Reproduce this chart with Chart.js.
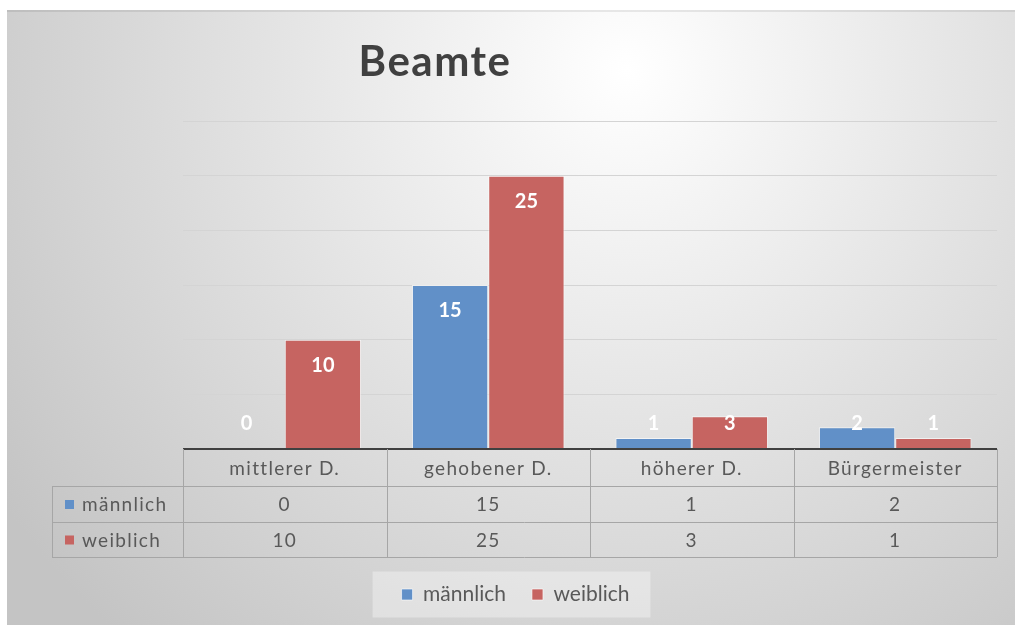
<!DOCTYPE html>
<html>
<head>
<meta charset="utf-8">
<script src="https://cdn.jsdelivr.net/npm/chart.js@4.4.1/dist/chart.umd.min.js"></script>
<style>
  html, body { margin: 0; padding: 0; background: #fff; }
  #wrap { position: absolute; left: 7px; top: 10px; width: 1008px; height: 615px; }
</style>
</head>
<body>
<div id="wrap"><canvas id="chart" width="1008" height="615"></canvas></div>
<script>
// data
const TITLE = 'Beamte';
const CATEGORIES = ['mittlerer D.', 'gehobener D.', 'höherer D.', 'Bürgermeister'];
const SERIES_NAMES = ['männlich', 'weiblich'];
const MAENNLICH = [0, 15, 1, 2];
const WEIBLICH = [10, 25, 3, 1];
const COLORS = ['#6190c8', '#c66461'];
const FONT = 'Lato, "Open Sans", sans-serif';

// background, title, legend box
const backdrop = {
    id: 'backdrop',
    beforeDraw(chart) {
        const ctx = chart.ctx;
        const w = chart.width, h = chart.height;
        ctx.save();
        const g = ctx.createRadialGradient(620, 60, 0, 620, 60, 760);
        g.addColorStop(0, '#ffffff');
        g.addColorStop(1, '#c4c4c4');
        ctx.fillStyle = g;
        ctx.fillRect(0, 0, w, h);
        ctx.fillStyle = 'rgba(0,0,0,0.08)';
        ctx.fillRect(0, 0, w, 2);

        // legend background
        const boxes = chart.legend.legendHitBoxes;
        if (boxes && boxes.length) {
            const l = Math.min(...boxes.map(b => b.left)) - 29;
            const r = Math.max(...boxes.map(b => b.left + b.width)) + 21;
            const cy = boxes[0].top + boxes[0].height / 2;
            ctx.fillStyle = 'rgba(255,255,255,0.35)';
            ctx.fillRect(l, cy - 23, r - l, 46);
        }

        // title
        ctx.fillStyle = '#404040';
        ctx.font = 'bold 42px ' + FONT;
        ctx.letterSpacing = '1.5px';
        ctx.textAlign = 'center';
        ctx.textBaseline = 'middle';
        ctx.fillText(TITLE, 428, 52);
        ctx.restore();
    }
};

// value labels on bars
const barLabels = {
    id: 'barLabels',
    afterDatasetsDraw(chart) {
        const ctx = chart.ctx;
        const base = chart.scales.y.getPixelForValue(0);
        ctx.save();
        ctx.fillStyle = '#ffffff';
        ctx.font = 'bold 20px ' + FONT;
        ctx.textAlign = 'center';
        ctx.textBaseline = 'middle';
        chart.data.datasets.forEach((ds, di) => {
            chart.getDatasetMeta(di).data.forEach((bar, i) => {
                const y = Math.min(bar.y + 26, base - 25);
                ctx.fillText(String(ds.data[i]), bar.x, y);
            });
        });
        ctx.restore();
    }
};

// data table under the axis
const dataTable = {
    id: 'dataTable',
    afterDraw(chart) {
        const ctx = chart.ctx;
        const x = chart.scales.x;
        const top = chart.chartArea.bottom;
        const rowH = [37, 36, 35];
        const labelLeft = 45;
        const n = CATEGORIES.length;
        const cw = (x.right - x.left) / n;
        const y0 = top, y1 = y0 + rowH[0], y2 = y1 + rowH[1], y3 = y2 + rowH[2];
        ctx.save();
        ctx.strokeStyle = '#a6a6a6';
        ctx.lineWidth = 1;
        ctx.beginPath();
        // horizontal lines
        ctx.moveTo(x.left, y1 + 0.5); ctx.lineTo(x.right, y1 + 0.5);
        ctx.moveTo(labelLeft, y1 + 0.5); ctx.lineTo(x.left, y1 + 0.5);
        ctx.moveTo(labelLeft, y2 + 0.5); ctx.lineTo(x.right, y2 + 0.5);
        ctx.moveTo(labelLeft, y3 + 0.5); ctx.lineTo(x.right, y3 + 0.5);
        // vertical lines
        for (let i = 0; i <= n; i++) {
            const px = Math.round(x.left + cw * i) + 0.5;
            ctx.moveTo(px, y0); ctx.lineTo(px, y3);
        }
        ctx.moveTo(labelLeft + 0.5, y1); ctx.lineTo(labelLeft + 0.5, y3);
        ctx.stroke();

        ctx.fillStyle = '#595959';
        ctx.font = '19px ' + FONT;
        ctx.letterSpacing = '1.3px';
        ctx.textAlign = 'center';
        ctx.textBaseline = 'middle';
        CATEGORIES.forEach((c, i) => {
            const cx = x.getPixelForValue(i);
            ctx.fillText(c, cx, (y0 + y1) / 2 + 1);
            ctx.fillText(String(MAENNLICH[i]), cx, (y1 + y2) / 2 + 1);
            ctx.fillText(String(WEIBLICH[i]), cx, (y2 + y3) / 2 + 1);
        });
        ctx.textAlign = 'left';
        [[MAENNLICH, y1, y2], [WEIBLICH, y2, y3]].forEach((r, k) => {
            const cy = (r[1] + r[2]) / 2;
            ctx.fillStyle = COLORS[k];
            ctx.fillRect(labelLeft + 13, cy - 4, 9, 9);
            ctx.fillStyle = '#595959';
            ctx.fillText(SERIES_NAMES[k], labelLeft + 30, cy + 1);
        });
        ctx.restore();
    }
};

new Chart(document.getElementById('chart'), {
    type: 'bar',
    data: {
        labels: CATEGORIES,
        datasets: [
            { label: SERIES_NAMES[0], data: MAENNLICH, backgroundColor: COLORS[0],
              borderColor: 'rgba(255,255,255,0.6)', borderWidth: 1 },
            { label: SERIES_NAMES[1], data: WEIBLICH, backgroundColor: COLORS[1],
              borderColor: 'rgba(255,255,255,0.6)', borderWidth: 1 }
        ]
    },
    options: {
        responsive: false,
        animation: false,
        layout: { padding: { left: 27, right: 18, top: 111, bottom: 10 } },
        categoryPercentage: 0.75,
        barPercentage: 1.0,
        plugins: {
            title: { display: false },
            tooltip: { enabled: false },
            legend: {
                position: 'bottom',
                labels: {
                    boxWidth: 11,
                    boxHeight: 11,
                    padding: 26,
                    color: '#595959',
                    font: { family: FONT, size: 21 }
                }
            }
        },
        scales: {
            x: {
                display: true,
                ticks: { display: false },
                grid: { display: false, drawTicks: false },
                border: { display: false },
                afterFit(scale) { scale.height = 109; }
            },
            y: {
                min: 0,
                max: 30,
                ticks: { display: false, stepSize: 5 },
                grid: {
                    drawTicks: false,
                    color: ctx => ctx.tick && ctx.tick.value === 0 ? '#404040' : '#d4d4d4',
                    lineWidth: ctx => ctx.tick && ctx.tick.value === 0 ? 2 : 1
                },
                border: { display: false },
                afterFit(scale) { scale.width = 149; }
            }
        }
    },
    plugins: [backdrop, barLabels, dataTable]
});
</script>
</body>
</html>
